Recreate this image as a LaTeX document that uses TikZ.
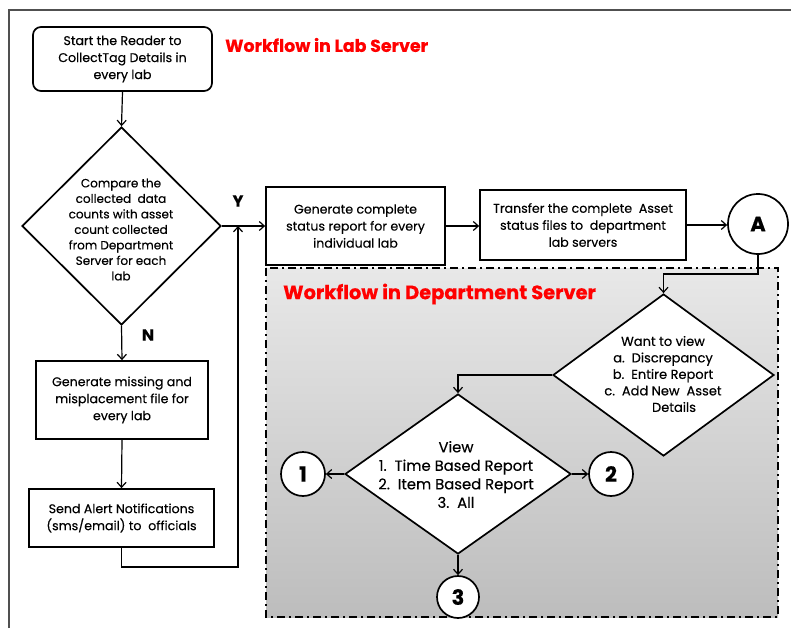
\documentclass[tikz,border=0pt]{standalone}
\usepackage{fontspec}
\setmainfont{Poppins}[FakeBold=0.3]
\usetikzlibrary{arrows.meta,shapes.geometric}
\definecolor{titlered}{RGB}{255,0,0}
\definecolor{framegray}{RGB}{80,80,80}
\newcommand\boxfont{\fontsize{12.6}{17}\selectfont}
\newcommand\dfont{\fontsize{12}{15.5}\selectfont}
\newcommand\dtwofont{\fontsize{13}{16.5}\selectfont}
\newcommand\dthreefont{\fontsize{14.8}{18.5}\selectfont}
\begin{document}
\begin{tikzpicture}[x=1pt,y=-1pt,
  stepbox/.style={draw,line width=1.7pt,inner sep=0pt,align=center,font=\boxfont,fill=white},
  dia/.style={draw,shape=diamond,line width=1.7pt,inner sep=0pt,fill=white},
  conn/.style={draw,shape=circle,line width=1.7pt,inner sep=0pt,fill=white,font=\fontsize{21}{22}\bfseries\selectfont},
  txt/.style={inner sep=0pt,align=center},
  arr/.style={line width=1.2pt,-{Straight Barb[length=5pt,width=9pt]}},
  title/.style={inner sep=0pt,anchor=west,text=titlered},
  yn/.style={inner sep=0pt,font=\fontsize{16}{18}\bfseries\selectfont}
]
\useasboundingbox (0,0) rectangle (791,628);
\fill[white] (0,0) rectangle (791,628);
% outer frame
\draw[framegray,line width=1.5pt] (9,628) -- (9,10) -- (791,10);
% department server region
\shade[top color=black!9,bottom color=black!26] (266,268) rectangle (778,617);
\draw[line width=2pt,dash pattern=on 8pt off 4pt on 2pt off 4pt] (266,268) rectangle (778,617);

% titles
\node[title,font=\fontsize{17.4}{20}\bfseries\selectfont] (t1) at (225,45) {Workflow in Lab Server};
\node[title,font=\fontsize{19.4}{22}\bfseries\selectfont] (t2) at (283,294) {Workflow in Department Server};

% lab server nodes
\node[stepbox,rounded corners=8pt,minimum width=179pt,minimum height=64pt] (start) at (122.5,59)
  {Start the Reader to\\CollectTag Details in\\every lab};
\node[dia,minimum width=199pt,minimum height=198pt] (d1) at (121.5,226) {};
\node[txt,font=\dfont] (d1t) at (121,229.5)
  {Compare the\\collected\ \ data\\counts with asset\\count collected\\from Department\\Server for each\\lab};
\node[stepbox,minimum width=179pt,minimum height=78pt] (gen) at (355.5,226)
  {Generate complete\\status report for every\\individual lab};
\node[stepbox,minimum width=206pt,minimum height=70pt] (tr) at (583,225)
  {Transfer the complete\ \ Asset\\status files to\ \ department\\lab servers};
\node[conn,minimum size=60pt] (A) at (758,224) {A};
\node[stepbox,minimum width=172pt,minimum height=78pt] (miss) at (122,400)
  {Generate missing and\\misplacement file for\\every lab};
\node[stepbox,minimum width=185pt,minimum height=58pt] (send) at (121.5,518)
  {Send Alert Notifications\\(sms/email) to\ \ officials};
\node[yn] (Y) at (238,201) {Y};
\node[yn] (N) at (148,335) {N};

% department server nodes
\node[dia,minimum width=221pt,minimum height=162pt] (d2) at (663.5,375) {};
\node[txt,font=\dtwofont] (d2t) at (663,374)
  {Want to view\\a.\ \ Discrepancy\\b.\ \ Entire Report\\c.\ \ Add New\ \ Asset\\\hspace*{22pt}Details};
\node[dia,minimum width=226pt,minimum height=160pt] (d3) at (458,474) {};
\node[txt,font=\dthreefont] (d3t) at (456,474.5)
  {View\\1.\ \ Time Based Report\\2.\ \ Item Based Report\\3.\ \ All};
\node[conn,minimum size=44pt] (c1) at (303,474) {1};
\node[conn,minimum size=44pt] (c2) at (611,474) {2};
\node[conn,minimum size=42pt] (c3) at (458,597) {3};

% connectors
\draw[arr] (start.south) -- (d1.north);
\draw[arr] (d1.east) -- (gen.west);
\draw[arr] (gen.east) -- (gen.east -| tr.west);
\draw[arr] (tr.east) -- (tr.east -| A.west);
\draw[arr] (d1.south) -- (miss.north);
\draw[arr] (miss.south) -- (send.north);
\coordinate (loopc) at (238,567);
\draw[arr] (send.south) |- (loopc) -- (loopc |- d1.east);
\coordinate (abend) at (758,274);
\draw[arr] (A.south) -- (abend) -| (d2.north);
\draw[arr] (d2.west) -| (d3.north);
\draw[arr] (d3.west) -- (c1.east);
\draw[arr] (d3.east) -- (c2.west);
\draw[arr] (d3.south) -- (c3.north);
\end{tikzpicture}
\end{document}
